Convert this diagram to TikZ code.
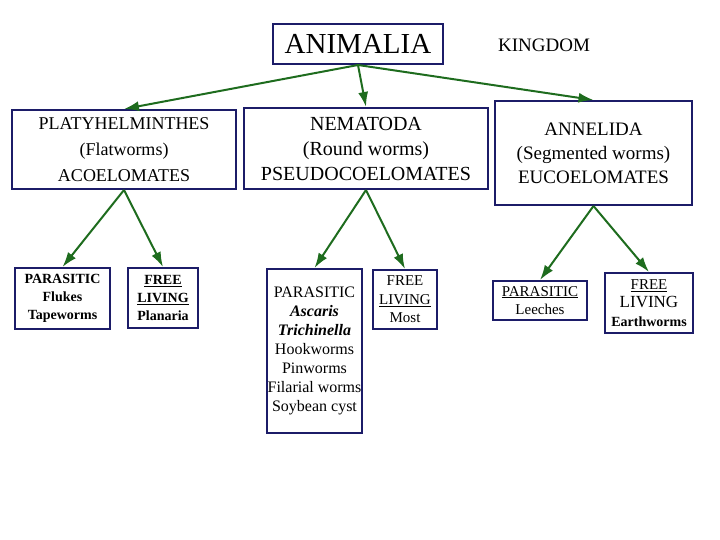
\documentclass[tikz,border=0pt]{standalone}
\usepackage{fontspec}
\setmainfont{Liberation Serif}
\usepackage{xcolor}
\usetikzlibrary{arrows.meta}
\definecolor{boxblue}{RGB}{28,28,104}
\definecolor{linkgreen}{RGB}{30,108,30}
\newcommand{\txtsize}[2]{\fontsize{#1}{#2}\selectfont}

\begin{document}
\begin{tikzpicture}[x=1pt,y=-1pt,
    box/.style={draw=boxblue,line width=2pt,align=center,inner sep=0pt},
    small/.style={box,font=\txtsize{15}{18.5}},
    smallbf/.style={box,font={\txtsize{14}{18}\bfseries}},
    link/.style={draw=linkgreen,line width=2pt,-{Latex[length=15pt,width=10pt]}}
]
\useasboundingbox (0,0) rectangle (720,540);
\node[box,minimum width=170pt,minimum height=40pt,font=\txtsize{29}{30}] (animalia) at (358,44) {ANIMALIA};
\node[font=\txtsize{19}{22}] (kingdom) at (544,45) {KINGDOM};
\node[box,minimum width=224pt,minimum height=79pt,font=\txtsize{18}{26}] (platy) at (124,149.5) {PLATYHELMINTHES\\(Flatworms)\\ACOELOMATES};
\node[box,minimum width=244pt,minimum height=81pt,font=\txtsize{20}{25}] (nema) at (366,148.5) {NEMATODA\\(Round worms)\\PSEUDOCOELOMATES};
\node[box,minimum width=197pt,minimum height=104pt,font=\txtsize{19}{24}] (anne) at (593.5,153) {ANNELIDA\\(Segmented worms)\\EUCOELOMATES};
\node[smallbf,minimum width=95pt,minimum height=61pt] (flatpara) at (62.5,298.5) {PARASITIC\\Flukes\\Tapeworms};
\node[smallbf,minimum width=70pt,minimum height=60pt] (flatfree) at (163,298) {\underline{FREE}\\\underline{LIVING}\\Planaria};
\node[box,minimum width=95pt,minimum height=164pt,font=\txtsize{16}{19}] (roundpara) at (314.5,351) {PARASITIC\\\textbf{\textit{Ascaris}}\\\textbf{\textit{Trichinella}}\\Hookworms\\Pinworms\\Filarial worms\\Soybean cyst};
\node[small,minimum width=64pt,minimum height=59pt] (roundfree) at (405,299.5) {FREE\\\underline{LIVING}\\Most};
\node[small,minimum width=94pt,minimum height=39pt] (segpara) at (540,300.5) {\underline{PARASITIC}\\Leeches};
\node[small,minimum width=88pt,minimum height=60pt] (segfree) at (649,303) {\underline{FREE}\\{\txtsize{17}{18.5}LIVING}\\{\txtsize{14}{18.5}\bfseries Earthworms}};
\draw[link] (animalia.south) -- (platy.north);
\draw[link] (animalia.south) -- (nema.north);
\draw[link] (animalia.south) -- (anne.north);
\draw[link] (platy.south) -- (flatpara.north);
\draw[link] (platy.south) -- (flatfree.north);
\draw[link] (nema.south) -- (roundpara.north);
\draw[link] (nema.south) -- (roundfree.north);
\draw[link] (anne.south) -- (segpara.north);
\draw[link] (anne.south) -- (segfree.north);
\end{tikzpicture}
\end{document}
